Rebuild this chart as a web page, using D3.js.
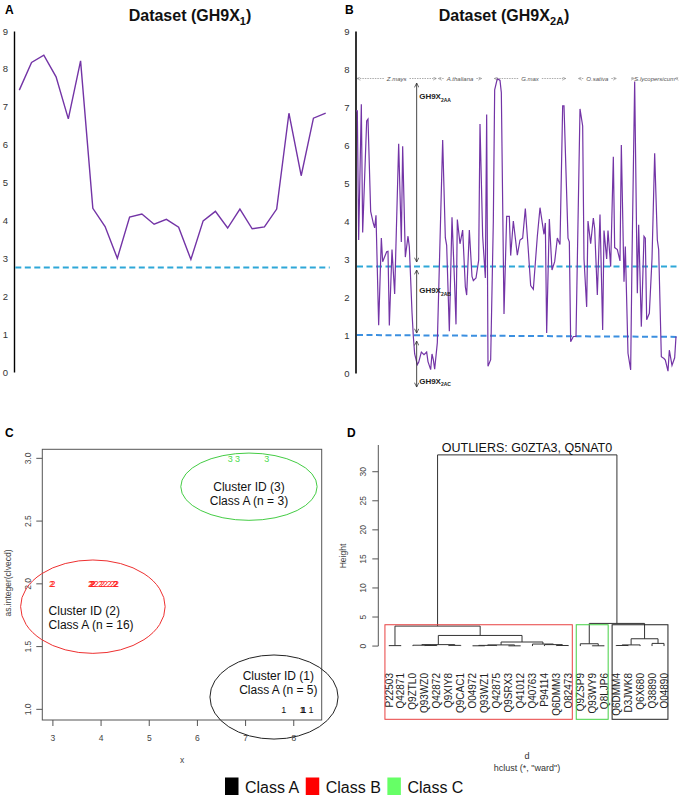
<!DOCTYPE html>
<html><head><meta charset="utf-8">
<script src="https://cdn.jsdelivr.net/npm/d3@7"></script>
<style>body{margin:0;background:#fff} svg{font-family:Arial,"Liberation Sans",sans-serif}</style>
</head><body><svg id="c" width="680" height="798"></svg>
<script>
// ---------------- DATA ----------------
// Panel A
const aValues = [7.44,8.17,8.36,7.79,6.68,8.21,4.32,3.84,3.00,4.09,4.17,3.90,4.03,3.82,2.97,3.99,4.24,3.80,4.30,3.78,3.83,4.30,6.83,5.18,6.70,6.83];
const aThreshold = 2.76;
const yTicksAB = [0,1,2,3,4,5,6,7,8,9];
// Panel B
const bPositions = [0,1,2,4,5,8,9,11,13,14,15,17,19,20,23,24,25,27,29,32,34,35,37,39,40,42,43,44,46,47,49,51,53,54,56,57,58,59,61,65,67,68,70,72,74,75,76,78,80,82,83,85,87,88,90,92,93,95,97,98,99,101,103,104,106,108,109,111,113,115,116,118,121,123,125,127,129,131,133,136,138,141,142,143,145,147,149,151,153,155,156,159,160,161,163,165,168,170,171,173,174,176,178,179,181,183,185,186,188,189,191,193,194,196,198,199,201,202,204,206,207,209,211,212,214,216,217,218,220,222,224,226,227,229,231,232,234,235,237,239,240];
const bValues = [6.9,6.9,3.5,7.07,3.7,6.63,6.68,4.25,3.94,3.82,4.15,1.26,3.55,2.93,3.19,3.2,1.25,3.25,2.08,6.03,3.45,5.97,3.05,3.6,3.32,1.6,0.96,0.5,0.22,0.28,0.55,0.48,0.55,0.3,0.09,0.5,0.35,0.1,0.8,6.13,3.56,3.36,1.1,4.1,2.3,1.28,4.04,3.4,3.76,2.27,2.05,3.76,2.54,2.43,2.5,2.97,6.55,3.6,2.5,6.8,0.18,0.35,4.0,7.45,7.75,7.7,7.38,1.55,4.12,4.12,3.09,4.0,3.1,3.5,3.55,4.33,3.35,2.3,2.2,3.6,4.35,3.65,3.95,1.05,4.05,2.71,2.93,3.55,3.38,7.03,7.03,3.55,3.45,0.82,0.96,0.96,6.95,6.5,3.0,1.74,4.0,3.4,4.08,3.8,2.05,4.17,1.13,3.75,3.0,3.75,2.8,5.69,3.3,3.25,2.95,6.0,2.4,3.33,0.52,0.08,3.0,7.67,2.1,3.9,1.22,3.6,3.55,1.4,1.57,3.0,5.78,3.5,3.25,0.43,0.38,0.34,0.05,0.6,0.2,0.4,0.96];
const bUpperThreshold = 2.8;
const bLowerThreshold = [1.0, 0.95]; // left, right ends
const speciesNames = ["Z.mays","A.thaliana","G.max","O.sativa","S.lycopersicum"];
const speciesStart = [0,61,103,166,208];
const speciesEnd   = [61,95,158,196,240];
const speciesLevel = 7.75;
const regionSubs   = ["2AA","2AB","2AC"];
const regionTop    = [7.63,2.71,0.84];
const regionBottom = [2.92,1.05,-0.37];
const regionLabelAt= [7.2,2.1,-0.28];
const regionPos = 45.5;
// Panel C
const c1X = [7.79,8.17,8.21,8.21,8.36];
const c2X = [3.00,2.97,3.78,3.80,3.82,3.83,3.84,3.90,3.99,4.03,4.09,4.17,4.24,4.30,4.30,4.32];
const c3X = [6.68,6.83,7.44];
const cXTicks = [3,4,5,6,7,8];
const cYTicks = [1.0,1.5,2.0,2.5,3.0];
const clusterIds = [1,2,3];
const clusterN = [5,16,3];
const clusterCX = [7.59,3.83,7.07];
const clusterCY = [1.098,1.818,2.774];
const clusterRX = [1.33,1.50,1.415];
const clusterRY = [0.335,0.372,0.268];
const clusterLabelX = [7.68,2.91,7.07];
const clusterLabelY = [1.23,1.751,2.742];
const clusterLabelAnchor = ["middle","start","middle"];
// Panel D
const leafNames = ["P22503","Q42871","Q9ZTL0","Q93WZ0","Q42872","Q9XIY8","Q9CAC1","O04972","Q93WZ1","Q42875","Q9SRX3","Q41012","Q40763","P94114","Q6DMM3","O82473","Q9ZSP9","Q93WY9","Q8LJP6","Q6DMM4","D3JWK8","Q6X680","Q38890","O04890"];
const merges = [
 ["Q93WZ0","Q42872",0.10],["Q9ZTL0","m0",0.15],["Q9XIY8","Q9CAC1",0.12],["m1","m2",0.25],
 ["P22503","Q42871",0.08],["O04972","Q93WZ1",0.05],["m5","Q42875",0.12],["Q9SRX3","Q41012",0.04],
 ["m6","m7",0.20],["Q6DMM3","O82473",0.10],["P94114","m9",0.25],["Q40763","m10",0.35],
 ["m8","m11",0.70],["m3","m12",1.83],["m4","m13",3.44],["Q93WY9","Q8LJP6",0.05],
 ["Q9ZSP9","m15",0.40],["Q6DMM4","D3JWK8",0.10],["m17","Q6X680",0.20],["Q38890","O04890",0.46],
 ["m18","m19",1.26],["m16","m20",3.90],["m14","m21",32.9]
];
const dYTicks = [0,5,10,15,20,25,30];
const dClusterFirst = [0,16,19];
const dClusterLast = [15,18,23];
const dClusterColor = ["#e84040","#44d044","#222222"];
// Legend
const classNames = ["Class A","Class B","Class C"];
const classColors = ["#000000","#ff0000","#66ff66"];

const purple = "#7334a6";
const svg = d3.select("#c");
const defs = svg.append("defs");
defs.append("marker").attr("id","arr").attr("viewBox","0 0 8 8").attr("refX",7.5).attr("refY",4)
  .attr("markerWidth",5).attr("markerHeight",5).attr("orient","auto-start-reverse").attr("markerUnits","userSpaceOnUse")
  .append("path").attr("d","M0.5,0.5 L7.5,4 L0.5,7.5").attr("fill","none").attr("stroke","#333").attr("stroke-width",1.2);
defs.append("marker").attr("id","arrg").attr("viewBox","0 0 8 8").attr("refX",7.5).attr("refY",4)
  .attr("markerWidth",4).attr("markerHeight",4).attr("orient","auto-start-reverse").attr("markerUnits","userSpaceOnUse")
  .append("path").attr("d","M0.5,0.5 L7.5,4 L0.5,7.5").attr("fill","none").attr("stroke","#777").attr("stroke-width",1);

// panel letters
[["A",5,14],["B",345,14],["C",5,437],["D",347,437]].forEach(([t,x,y])=>
  svg.append("text").attr("x",x).attr("y",y).attr("font-size",12).attr("font-weight","bold").text(t));

function title(cx, main, sub){
  const t = svg.append("text").attr("x",cx).attr("y",21).attr("text-anchor","middle")
    .attr("font-size",16).attr("font-weight","bold").attr("fill","#111");
  t.append("tspan").text(main);
  t.append("tspan").attr("font-size",11).attr("dy",4).text(sub);
  t.append("tspan").attr("dy",-4).text(")");
}

// ---------------- PANEL A ----------------
const xA = d3.scaleLinear().domain([0,aValues.length-1]).range([19.3,325.7]);
const yA = d3.scaleLinear().domain([0,9]).range([372,31]);
title(190,"Dataset (GH9X","1");
const axA = svg.append("g").attr("transform","translate(14,0)")
  .call(d3.axisLeft(yA).tickValues(yTicksAB).tickSize(0).tickSizeOuter(0).tickPadding(6));
axA.select(".domain").attr("stroke","#000").attr("stroke-width",1.4);
axA.selectAll("text").attr("font-size",9.5).attr("fill","#333").attr("font-family","Arial");
svg.append("line").attr("x1",xA.range()[0]-4).attr("x2",xA.range()[1]+4)
  .attr("y1",yA(aThreshold)).attr("y2",yA(aThreshold))
  .attr("stroke","#2ea7d8").attr("stroke-width",2).attr("stroke-dasharray","6,3.5");
svg.append("path").datum(aValues)
  .attr("d",d3.line().x((d,i)=>xA(i)).y(d=>yA(d)))
  .attr("fill","none").attr("stroke",purple).attr("stroke-width",1.4);

// ---------------- PANEL B ----------------
const xB = d3.scaleLinear().domain([0,240]).range([356,676]);
const yB = d3.scaleLinear().domain([0,9]).range([373,31]);
title(504,"Dataset (GH9X","2A");
const axB = svg.append("g").attr("transform","translate(355.5,0)")
  .call(d3.axisLeft(yB).tickValues(yTicksAB).tickSize(0).tickSizeOuter(0).tickPadding(6));
axB.select(".domain").attr("stroke","#000").attr("stroke-width",1.6);
axB.selectAll("text").attr("font-size",9.5).attr("fill","#333");
svg.append("line").attr("x1",xB(0)+1).attr("x2",xB(240)+4)
  .attr("y1",yB(bUpperThreshold)).attr("y2",yB(bUpperThreshold))
  .attr("stroke","#2ea7d8").attr("stroke-width",2).attr("stroke-dasharray","6,3.5");
svg.append("line").attr("x1",xB(0)+1).attr("x2",xB(240)+4)
  .attr("y1",yB(bLowerThreshold[0])).attr("y2",yB(bLowerThreshold[1]))
  .attr("stroke","#3b8fe0").attr("stroke-width",2).attr("stroke-dasharray","6,3.5");
svg.append("path").datum(d3.zip(bPositions,bValues))
  .attr("d",d3.line().x(d=>xB(d[0])).y(d=>yB(d[1])))
  .attr("fill","none").attr("stroke",purple).attr("stroke-width",1.2);

// species annotations
speciesNames.forEach((name,i)=>{
  const x0 = xB(speciesStart[i]), x1 = xB(speciesEnd[i]), y = yB(speciesLevel);
  const cx = (x0+x1)/2;
  const t = svg.append("text").attr("x",cx).attr("y",y+2).attr("text-anchor","middle")
    .attr("font-size",6).attr("font-style","italic").attr("fill","#555").text(name);
  const w = t.node().getComputedTextLength();
  svg.append("line").attr("x1",cx-w/2-3).attr("x2",x0+1).attr("y1",y).attr("y2",y)
    .attr("stroke","#888").attr("stroke-width",0.7).attr("stroke-dasharray","1.5,1")
    .attr("marker-end","url(#arrg)");
  svg.append("line").attr("x1",cx+w/2+3).attr("x2",x1-1).attr("y1",y).attr("y2",y)
    .attr("stroke","#888").attr("stroke-width",0.7).attr("stroke-dasharray","1.5,1")
    .attr("marker-end","url(#arrg)");
});
// region arrows
regionSubs.forEach((s,i)=>{
  const x = xB(regionPos);
  svg.append("line").attr("x1",x).attr("x2",x).attr("y1",yB(regionTop[i])).attr("y2",yB(regionBottom[i]))
    .attr("stroke","#333").attr("stroke-width",0.9)
    .attr("marker-start","url(#arr)").attr("marker-end","url(#arr)");
  const t = svg.append("text").attr("x",x+2.5).attr("y",yB(regionLabelAt[i]))
    .attr("font-size",8).attr("font-weight","bold").attr("fill","#222");
  t.append("tspan").text("GH9X");
  t.append("tspan").attr("font-size",5).attr("dy",2.5).text(s);
});

// ---------------- PANEL C ----------------
const xC = d3.scaleLinear().domain([2.78,8.58]).range([42.3,321.7]);
const yC = d3.scaleLinear().domain([0.915,3.072]).range([720,449.3]);
svg.append("rect").attr("x",xC.range()[0]).attr("y",yC.range()[1])
  .attr("width",xC.range()[1]-xC.range()[0]).attr("height",yC.range()[0]-yC.range()[1])
  .attr("fill","none").attr("stroke","#555").attr("stroke-width",1);
cXTicks.forEach(t=>{
  svg.append("line").attr("x1",xC(t)).attr("x2",xC(t)).attr("y1",yC.range()[0]).attr("y2",yC.range()[0]+6)
    .attr("stroke","#555");
  svg.append("text").attr("x",xC(t)).attr("y",741).attr("text-anchor","middle")
    .attr("font-size",8.5).attr("fill","#444").text(t);
});
cYTicks.forEach(t=>{
  svg.append("line").attr("x1",xC.range()[0]).attr("x2",xC.range()[0]-6).attr("y1",yC(t)).attr("y2",yC(t))
    .attr("stroke","#555");
  svg.append("text").attr("transform",`translate(31,${yC(t)}) rotate(-90)`).attr("text-anchor","middle")
    .attr("font-size",8.5).attr("fill","#444").text(t.toFixed(1));
});
svg.append("text").attr("transform","translate(11,583) rotate(-90)").attr("text-anchor","middle")
  .attr("font-size",8.5).attr("fill","#444").text("as.integer(clvecd)");
svg.append("text").attr("x",(xC.range()[0]+xC.range()[1])/2).attr("y",763).attr("text-anchor","middle")
  .attr("font-size",8.5).attr("fill","#444").text("x");

const pointColors = ["#111111","#ff2020","#4cdc4c"];
const ellipseColors = ["#222222","#ee3030","#44cc44"];
[c1X,c2X,c3X].forEach((arr,ci)=>{
  svg.selectAll(null).data(arr).enter().append("text")
    .attr("x",d=>xC(d)).attr("y",yC(clusterIds[ci])+3.5).attr("text-anchor","middle")
    .attr("font-size",9).attr("fill",pointColors[ci]).text(clusterIds[ci]);
});
clusterIds.forEach((id,i)=>{
  svg.append("ellipse").attr("cx",xC(clusterCX[i])).attr("cy",yC(clusterCY[i]))
    .attr("rx",xC(clusterCX[i]+clusterRX[i])-xC(clusterCX[i]))
    .attr("ry",yC(clusterCY[i])-yC(clusterCY[i]+clusterRY[i]))
    .attr("fill","none").attr("stroke",ellipseColors[i]).attr("stroke-width",1);
  const t = svg.append("text").attr("x",xC(clusterLabelX[i])).attr("y",yC(clusterLabelY[i]))
    .attr("text-anchor",clusterLabelAnchor[i]).attr("font-size",12).attr("fill","#111");
  t.append("tspan").attr("x",xC(clusterLabelX[i])).text(`Cluster ID (${id})`);
  t.append("tspan").attr("x",xC(clusterLabelX[i])).attr("dy",13.8).text(`Class A (n = ${clusterN[i]})`);
});

// ---------------- PANEL D ----------------
const xD = d3.scaleLinear().domain([0,leafNames.length-1]).range([389,664]);
const yD = d3.scaleLinear().domain([-12.6,34.6]).range([719.3,445]);
const nodes = {};
leafNames.forEach((n,i)=>nodes[n]={x:xD(i),h:0});
const gD = svg.append("g");
merges.forEach((m,i)=>{
  const a = nodes[m[0]], b = nodes[m[1]], h = m[2];
  nodes["m"+i] = {x:(a.x+b.x)/2,h:h};
  gD.append("path").attr("d",`M${a.x},${yD(a.h)}V${yD(h)}H${b.x}V${yD(b.h)}`)
    .attr("fill","none").attr("stroke","#333").attr("stroke-width",1);
});
svg.append("line").attr("x1",378.3).attr("x2",378.3).attr("y1",yD(0)).attr("y2",yD(yD.domain()[1]))
  .attr("stroke","#555");
dYTicks.forEach(t=>{
  svg.append("line").attr("x1",378.3).attr("x2",372.3).attr("y1",yD(t)).attr("y2",yD(t)).attr("stroke","#555");
  svg.append("text").attr("transform",`translate(366,${yD(t)}) rotate(-90)`).attr("text-anchor","middle")
    .attr("font-size",8.5).attr("fill","#444").text(t);
});
svg.append("text").attr("transform","translate(346,556) rotate(-90)").attr("text-anchor","middle")
  .attr("font-size",8.5).attr("fill","#444").text("Height");
leafNames.forEach((n,i)=>{
  svg.append("text").attr("transform",`translate(${xD(i)+3.5},673) rotate(-90)`).attr("text-anchor","end")
    .attr("font-size",10).attr("fill","#222").text(n);
});
const rectTop = (merges[14][2]+merges[21][2])/2;
dClusterFirst.forEach((f,i)=>{
  const x0 = xD(f-0.34), x1 = xD(dClusterLast[i]+0.33);
  svg.append("rect").attr("x",x0).attr("y",yD(rectTop)).attr("width",x1-x0)
    .attr("height",yD(yD.domain()[0])-yD(rectTop)).attr("fill","none")
    .attr("stroke",dClusterColor[i]).attr("stroke-width",1);
});
svg.append("text").attr("x",527).attr("y",452).attr("text-anchor","middle").attr("font-size",12.5)
  .attr("fill","#111").text("OUTLIERS: G0ZTA3, Q5NAT0");
svg.append("text").attr("x",527).attr("y",759).attr("text-anchor","middle").attr("font-size",9).attr("fill","#333").text("d");
svg.append("text").attr("x",527).attr("y",771).attr("text-anchor","middle").attr("font-size",9).attr("fill","#333").text('hclust (*, "ward")');

// ---------------- LEGEND ----------------
let lx = 225;
classNames.forEach((n,i)=>{
  svg.append("rect").attr("x",lx).attr("y",777.5).attr("width",13.5).attr("height",17.5).attr("fill",classColors[i]);
  const t = svg.append("text").attr("x",lx+20).attr("y",792.5).attr("font-size",16).attr("fill","#111").text(n);
  lx += 20 + t.node().getComputedTextLength() + 6.5;
});
</script></body></html>
